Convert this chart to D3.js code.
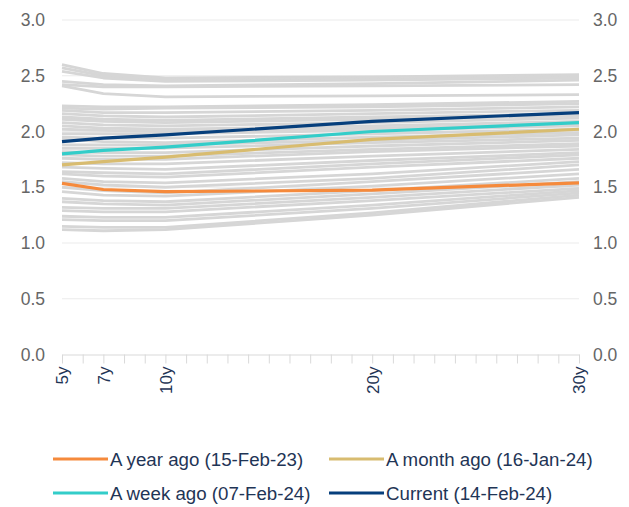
<!DOCTYPE html>
<html>
<head>
<meta charset="utf-8">
<script src="https://cdn.jsdelivr.net/npm/d3@7"></script>
<style>
  html, body { margin: 0; padding: 0; background: #ffffff; }
  svg { display: block; font-family: "Liberation Sans", Arial, sans-serif; }
</style>
</head>
<body>
<svg id="chart" width="629" height="507"></svg>
<script>
// Curve tenors (years) and the tick labels shown on the x axis
const tenors = [5, 7, 10, 20, 30];
const tenorLabels = ["5y", "7y", "10y", "20y", "30y"];
const yTicks = [0, 0.5, 1.0, 1.5, 2.0, 2.5, 3.0];

// Historical curves drawn in the background (values at 5y, 7y, 10y, 20y, 30y)
const historyCurves = [
  [2.60, 2.52, 2.48, 2.49, 2.51],
  [2.57, 2.50, 2.46, 2.47, 2.50],
  [2.54, 2.48, 2.45, 2.46, 2.48],
  [2.45, 2.42, 2.41, 2.43, 2.46],
  [2.42, 2.40, 2.40, 2.41, 2.42],
  [2.41, 2.34, 2.31, 2.32, 2.33],
  [2.23, 2.22, 2.22, 2.24, 2.27],
  [2.21, 2.20, 2.21, 2.22, 2.25],
  [2.19, 2.17, 2.17, 2.19, 2.22],
  [2.16, 2.14, 2.13, 2.16, 2.19],
  [2.13, 2.11, 2.10, 2.13, 2.16],
  [2.11, 2.09, 2.08, 2.11, 2.14],
  [2.08, 2.06, 2.05, 2.08, 2.12],
  [2.05, 2.03, 2.02, 2.05, 2.09],
  [2.02, 2.01, 2.00, 2.03, 2.07],
  [1.98, 1.98, 1.98, 2.01, 2.05],
  [1.95, 1.94, 1.94, 1.98, 2.02],
  [1.93, 1.91, 1.90, 1.95, 1.99],
  [1.88, 1.88, 1.88, 1.92, 1.97],
  [1.85, 1.85, 1.85, 1.90, 1.94],
  [1.82, 1.81, 1.81, 1.87, 1.92],
  [1.79, 1.78, 1.78, 1.84, 1.89],
  [1.76, 1.75, 1.75, 1.82, 1.87],
  [1.72, 1.71, 1.71, 1.78, 1.84],
  [1.68, 1.67, 1.66, 1.74, 1.81],
  [1.64, 1.63, 1.62, 1.71, 1.79],
  [1.62, 1.60, 1.59, 1.68, 1.76],
  [1.58, 1.55, 1.54, 1.62, 1.73],
  [1.55, 1.52, 1.50, 1.58, 1.70],
  [1.50, 1.47, 1.45, 1.55, 1.66],
  [1.46, 1.43, 1.42, 1.51, 1.62],
  [1.40, 1.38, 1.37, 1.47, 1.58],
  [1.37, 1.35, 1.34, 1.44, 1.55],
  [1.32, 1.31, 1.31, 1.41, 1.52],
  [1.29, 1.28, 1.28, 1.38, 1.49],
  [1.24, 1.23, 1.23, 1.34, 1.47],
  [1.21, 1.20, 1.20, 1.31, 1.45],
  [1.15, 1.14, 1.14, 1.27, 1.43],
  [1.12, 1.11, 1.12, 1.25, 1.41]
];

// Highlighted curves
const seriesNames = [
  "A year ago (15-Feb-23)",
  "A month ago (16-Jan-24)",
  "A week ago (07-Feb-24)",
  "Current (14-Feb-24)"
];
const yearAgo  = [1.535, 1.48, 1.46, 1.475, 1.54];
const monthAgo = [1.70, 1.73, 1.77, 1.93, 2.02];
const weekAgo  = [1.80, 1.83, 1.86, 2.00, 2.08];
const current  = [1.91, 1.94, 1.97, 2.09, 2.17];
const seriesValues = [yearAgo, monthAgo, weekAgo, current];
const seriesColors = ["#f58a3c", "#d8bc70", "#33cdc9", "#063f7c"];

const svg = d3.select("#chart");
const plot = { left: 62, right: 579, top: 20, bottom: 354.5 };

const x = d3.scaleLinear().domain([5, 30]).range([plot.left, plot.right]);
const y = d3.scaleLinear().domain([0, 3]).range([plot.bottom, plot.top]);

// Horizontal gridlines
svg.append("g")
  .selectAll("line")
  .data(yTicks.filter(t => t > 0))
  .join("line")
  .attr("x1", plot.left).attr("x2", plot.right)
  .attr("y1", d => y(d)).attr("y2", d => y(d))
  .attr("stroke", "#ebebeb").attr("stroke-width", 1);

// Y axes on both sides
const fmt = d3.format(".1f");
const yLeft = svg.append("g")
  .attr("transform", `translate(${plot.left - 17},0)`)
  .call(d3.axisLeft(y).tickValues(yTicks).tickFormat(fmt).tickSize(0).tickPadding(0));
const yRight = svg.append("g")
  .attr("transform", `translate(${plot.right + 14},0)`)
  .call(d3.axisRight(y).tickValues(yTicks).tickFormat(fmt).tickSize(0).tickPadding(0));
[yLeft, yRight].forEach(g => {
  g.select(".domain").remove();
  g.selectAll("text")
    .attr("fill", "#666666")
    .style("font-size", "17.5px")
    .style("font-family", "'Liberation Sans', Arial, sans-serif");
});

// X axis with yearly ticks, labelled only at curve tenors
const xAxis = svg.append("g")
  .attr("transform", `translate(0,${plot.bottom})`)
  .call(d3.axisBottom(x)
    .tickValues(d3.range(5, 31))
    .tickSize(9)
    .tickSizeOuter(0)
    .tickFormat(d => {
      const i = tenors.indexOf(d);
      return i >= 0 ? tenorLabels[i] : "";
    }));
xAxis.select(".domain").attr("stroke", "#d9d9d9");
xAxis.selectAll(".tick line").attr("stroke", "#d9d9d9");
xAxis.selectAll("text")
  .attr("fill", "#1f3556")
  .style("font-size", "17px")
  .style("font-family", "'Liberation Sans', Arial, sans-serif")
  .attr("text-anchor", "end")
  .attr("transform", "rotate(-90)")
  .attr("x", -12)
  .attr("y", 0)
  .attr("dy", "0.35em");

const line = d3.line()
  .x((d, i) => x(tenors[i]))
  .y(d => y(d));

// Background history
svg.append("g")
  .selectAll("path")
  .data(historyCurves)
  .join("path")
  .attr("d", line)
  .attr("fill", "none")
  .attr("stroke", "#d6d6d6")
  .attr("stroke-width", 2.8)
  .attr("stroke-linejoin", "round");

// Highlighted curves
svg.append("g")
  .selectAll("path")
  .data(seriesValues)
  .join("path")
  .attr("d", line)
  .attr("fill", "none")
  .attr("stroke", (d, i) => seriesColors[i])
  .attr("stroke-width", 3.2)
  .attr("stroke-linejoin", "round");

// Legend, two columns by two rows
const legendPos = [
  { x: 53, y: 459 }, { x: 329, y: 459 },
  { x: 53, y: 493 }, { x: 329, y: 493 }
];
const legend = svg.append("g")
  .selectAll("g")
  .data(seriesNames)
  .join("g")
  .attr("transform", (d, i) => `translate(${legendPos[i].x},${legendPos[i].y})`);
legend.append("line")
  .attr("x1", 0).attr("x2", 55)
  .attr("y1", 0).attr("y2", 0)
  .attr("stroke", (d, i) => seriesColors[i])
  .attr("stroke-width", 3.2);
legend.append("text")
  .attr("x", 57)
  .attr("y", 0)
  .attr("dy", "0.35em")
  .attr("fill", "#1f3556")
  .style("font-size", "18.7px")
  .text(d => d);
</script>
</body>
</html>
